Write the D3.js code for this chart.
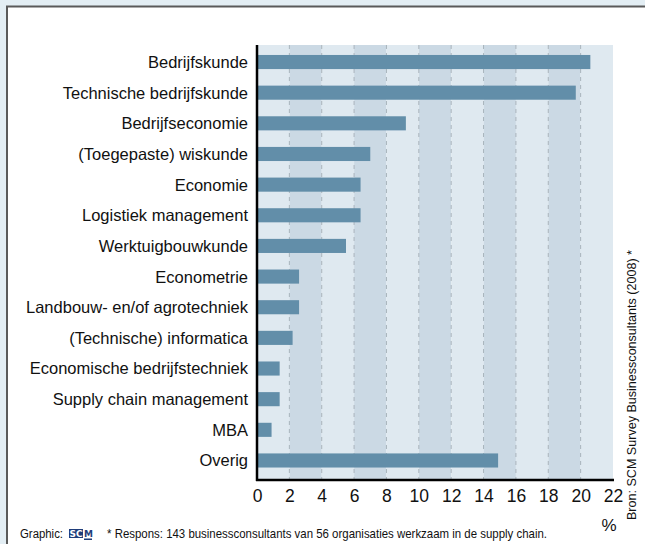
<!DOCTYPE html>
<html>
<head>
<meta charset="utf-8">
<script src="https://cdn.jsdelivr.net/npm/d3@7"></script>
<style>
  html, body { margin: 0; padding: 0; background: #e3eef4; }
  svg { display: block; }
</style>
</head>
<body>
<script>
// Data
const categories = [
  "Bedrijfskunde",
  "Technische bedrijfskunde",
  "Bedrijfseconomie",
  "(Toegepaste) wiskunde",
  "Economie",
  "Logistiek management",
  "Werktuigbouwkunde",
  "Econometrie",
  "Landbouw- en/of agrotechniek",
  "(Technische) informatica",
  "Economische bedrijfstechniek",
  "Supply chain management",
  "MBA",
  "Overig"
];
const values = [20.6, 19.7, 9.2, 7.0, 6.4, 6.4, 5.5, 2.6, 2.6, 2.2, 1.4, 1.4, 0.9, 14.9];
const xTicks = [0, 2, 4, 6, 8, 10, 12, 14, 16, 18, 20, 22];

const width = 645;
const height = 544;
const plot = { left: 257, right: 613, top: 45, bottom: 480 };
const font = "'Liberation Sans', Arial, sans-serif";

const xScale = d3.scaleLinear().domain([0, 22]).range([plot.left, plot.right]);
const yScale = d3.scaleBand().domain(categories).range([46.7, 475.8]).paddingInner(0.54).paddingOuter(0.27);

const svg = d3.select("body")
  .append("svg")
  .attr("width", width)
  .attr("height", height)
  .attr("viewBox", [0, 0, width, height]);

// outer panel
svg.append("rect")
  .attr("x", 0).attr("y", 0).attr("width", width).attr("height", height)
  .attr("fill", "#e3eef4");
svg.append("rect")
  .attr("x", 7).attr("y", 6.5).attr("width", width).attr("height", height)
  .attr("fill", "#ffffff")
  .attr("stroke", "#5a5a5a")
  .attr("stroke-width", 2);

// alternating column bands
const bands = d3.range(0, 22, 2);
svg.append("g")
  .selectAll("rect")
  .data(bands)
  .join("rect")
  .attr("x", d => xScale(d))
  .attr("y", plot.top)
  .attr("width", d => xScale(d + 2) - xScale(d))
  .attr("height", plot.bottom - plot.top)
  .attr("fill", (d, i) => i % 2 ? "#cbd9e4" : "#dfe9f0");

// dashed grid lines
svg.append("g")
  .selectAll("line")
  .data(xTicks.slice(1, -1))
  .join("line")
  .attr("x1", d => xScale(d)).attr("x2", d => xScale(d))
  .attr("y1", plot.top).attr("y2", plot.bottom)
  .attr("stroke", "#a9b4bc")
  .attr("stroke-width", 1)
  .attr("stroke-dasharray", "4,4");

// bars
svg.append("g")
  .selectAll("rect")
  .data(values)
  .join("rect")
  .attr("x", xScale(0))
  .attr("y", (d, i) => yScale(categories[i]))
  .attr("width", d => xScale(d) - xScale(0))
  .attr("height", yScale.bandwidth())
  .attr("fill", "#628ea9");

// category labels
svg.append("g")
  .selectAll("text")
  .data(categories)
  .join("text")
  .attr("x", plot.left - 9)
  .attr("y", d => yScale(d) + yScale.bandwidth() / 2)
  .attr("dy", "0.36em")
  .attr("text-anchor", "end")
  .attr("font-family", font)
  .attr("font-size", 16.5)
  .attr("fill", "#111")
  .text(d => d);

// x axis
const xAxis = d3.axisBottom(xScale).tickValues(xTicks).tickSize(0).tickPadding(10);
svg.append("g")
  .attr("transform", `translate(0,${plot.bottom})`)
  .call(xAxis)
  .call(g => g.select(".domain").remove())
  .call(g => g.selectAll("text")
    .attr("font-family", font)
    .attr("font-size", 17.5)
    .attr("fill", "#111"));

// axis lines
svg.append("line")
  .attr("x1", plot.left).attr("x2", plot.left)
  .attr("y1", plot.top).attr("y2", plot.bottom + 1)
  .attr("stroke", "#000").attr("stroke-width", 2.5);
svg.append("line")
  .attr("x1", plot.left - 1).attr("x2", plot.right + 1)
  .attr("y1", plot.bottom).attr("y2", plot.bottom)
  .attr("stroke", "#000").attr("stroke-width", 2.5);

// unit
svg.append("text")
  .attr("x", 609).attr("y", 531)
  .attr("text-anchor", "middle")
  .attr("font-family", font)
  .attr("font-size", 17)
  .attr("fill", "#111")
  .text("%");

// source (vertical)
svg.append("text")
  .attr("transform", "translate(636,520) rotate(-90)")
  .attr("font-family", font)
  .attr("font-size", 13.5)
  .attr("textLength", 270)
  .attr("lengthAdjust", "spacingAndGlyphs")
  .attr("fill", "#111")
  .text("Bron: SCM Survey Businessconsultants (2008) *");

// footer
svg.append("text")
  .attr("x", 20).attr("y", 538)
  .attr("font-family", font)
  .attr("font-size", 12.5)
  .attr("textLength", 43)
  .attr("lengthAdjust", "spacingAndGlyphs")
  .attr("fill", "#111")
  .text("Graphic:");

const logo = svg.append("g").attr("transform", "translate(69,529)");
logo.append("rect").attr("x", 0).attr("y", 0).attr("width", 14).attr("height", 9).attr("fill", "#1f3d7a");
logo.append("text")
  .attr("x", 7).attr("y", 8.3)
  .attr("text-anchor", "middle")
  .attr("font-family", "'DejaVu Sans', sans-serif")
  .attr("font-weight", "bold")
  .attr("font-size", 9)
  .attr("fill", "#fff")
  .text("SC");
logo.append("text")
  .attr("x", 15).attr("y", 8.3)
  .attr("font-family", "'DejaVu Sans', sans-serif")
  .attr("font-weight", "bold")
  .attr("font-size", 9)
  .attr("fill", "#1f3d7a")
  .text("M");
logo.append("rect").attr("x", 15).attr("y", 9.5).attr("width", 8).attr("height", 1.5).attr("fill", "#1f3d7a");

svg.append("text")
  .attr("x", 107).attr("y", 538)
  .attr("font-family", font)
  .attr("font-size", 12.8)
  .attr("textLength", 440)
  .attr("lengthAdjust", "spacingAndGlyphs")
  .attr("fill", "#111")
  .text("* Respons: 143 businessconsultants van 56 organisaties werkzaam in de supply chain.");
</script>
</body>
</html>
